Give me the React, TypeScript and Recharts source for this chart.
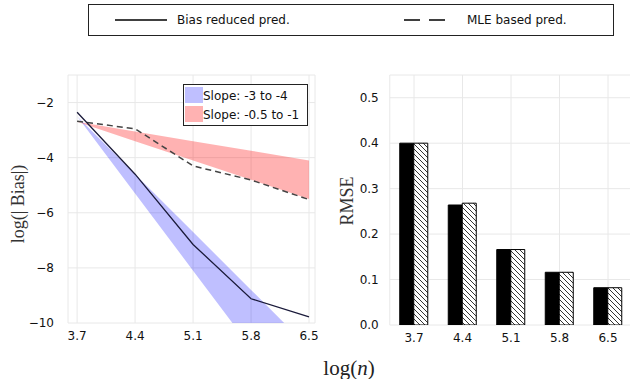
import React from 'react';
import {
  ComposedChart, Area, Line, XAxis, YAxis, CartesianGrid, BarChart, Bar,
} from 'recharts';

// ---- data ----
const logN = [3.7, 4.4, 5.1, 5.8, 6.5];
const biasReduced = [-2.35, -4.6, -7.15, -9.12, -9.78];
const mleBased = [-2.68, -2.95, -4.3, -4.81, -5.52];
const blueLow = [-2.5, -5.3, -8.1, -10.9, -13.7];
const blueHigh = [-2.5, -4.6, -6.7, -8.8, -10.9];
const redLow = [-2.7, -3.4, -4.1, -4.8, -5.5];
const redHigh = [-2.7, -3.05, -3.4, -3.75, -4.1];
const rmseBias = [0.4, 0.264, 0.166, 0.116, 0.082];
const rmseMle = [0.4, 0.268, 0.166, 0.116, 0.082];
const biasTicks = [-10, -8, -6, -4, -2];
const rmseTicks = [0, 0.1, 0.2, 0.3, 0.4, 0.5];
const tickLabels = ['3.7', '4.4', '5.1', '5.8', '6.5'];

const lineData = logN.map((x, i) => ({
  x,
  bias: biasReduced[i],
  mle: mleBased[i],
  blue: [blueLow[i], blueHigh[i]],
  red: [redLow[i], redHigh[i]],
}));
const barData = tickLabels.map((c, i) => ({ c, bias: rmseBias[i], mle: rmseMle[i] }));

const SANS = '"DejaVu Sans", sans-serif';
const SERIF = '"Liberation Serif", "Times New Roman", serif';
const tickStyle = { fontFamily: SANS, fontSize: 12, fill: '#111' };
const gridColor = '#e8e8e8';
const fmtMinus = (v: number) => (v < 0 ? '\u2212' + Math.abs(v) : String(v));

export default function App() {
  return (
    <div style={{ position: 'absolute', left: 0, top: 0, width: 630, height: 379, overflow: 'hidden', background: '#fff' }}>
      <svg width={0} height={0} style={{ position: 'absolute' }}>
        <defs>
          <pattern id="hatch" patternUnits="userSpaceOnUse" width={5} height={5}>
            <rect width={5} height={5} fill="#fff" />
            <path d="M0,0 L5,5 M-1,4 L1,6 M4,-1 L6,1" stroke="#000" strokeWidth={0.8} />
          </pattern>
        </defs>
      </svg>

      {/* Top legend */}
      <svg width={630} height={40} style={{ position: 'absolute', left: 0, top: 0 }}>
        <rect x={88.5} y={4.5} width={525} height={31} fill="#fff" stroke="#222" strokeWidth={1} />
        <line x1={115} x2={167} y1={20} y2={20} stroke="#000" strokeWidth={1.5} />
        <text x={177} y={24} style={{ fontFamily: SANS, fontSize: 12 }} fill="#111">Bias reduced pred.</text>
        <line x1={404} x2={445} y1={20} y2={20} stroke="#000" strokeWidth={1.5} strokeDasharray="16 9" />
        <text x={467} y={24} style={{ fontFamily: SANS, fontSize: 12 }} fill="#111">MLE based pred.</text>
      </svg>

      {/* Left chart */}
      <div style={{ position: 'absolute', left: 0, top: 0 }}>
        <ComposedChart width={330} height={379} data={lineData}
          margin={{ top: 75, right: 15, left: 28, bottom: 26 }}>
          <CartesianGrid stroke={gridColor} />
          <XAxis dataKey="x" type="number" domain={[3.59, 6.572]} ticks={logN}
            tickFormatter={(v: number) => v.toFixed(1)} axisLine={false} tickLine={false}
            tick={tickStyle} height={30} allowDataOverflow />
          <YAxis type="number" domain={[-10, -1]} ticks={biasTicks} allowDataOverflow
            axisLine={false} tickLine={false} tick={tickStyle} width={40} tickMargin={8}
            tickFormatter={fmtMinus}
            label={{
              content: () => (
                <text x={18} y={204} transform="rotate(-90 18 204)" textAnchor="middle"
                  dominantBaseline="central" style={{ fontFamily: SERIF, fontSize: 18 }} fill="#333">log(| Bias|)</text>
              ),
            }} />
          <Area dataKey="blue" type="linear" stroke="none" fill="#0000ff" fillOpacity={0.25} isAnimationActive={false} />
          <Area dataKey="red" type="linear" stroke="none" fill="#ff0000" fillOpacity={0.3} isAnimationActive={false} />
          <Line dataKey="mle" type="linear" stroke="#444" strokeWidth={1.5} strokeDasharray="6 4" dot={false} isAnimationActive={false} />
          <Line dataKey="bias" type="linear" stroke="#1a1a3a" strokeWidth={1.3} dot={false} isAnimationActive={false} />
        </ComposedChart>
      </div>

      {/* Left inner legend */}
      <svg width={130} height={45} style={{ position: 'absolute', left: 182, top: 83 }}>
        <rect x={1.5} y={1.5} width={124} height={41} fill="#fff" stroke="#222" strokeWidth={1} />
        <rect x={3} y={4} width={18} height={16} fill="#0000ff" fillOpacity={0.25} />
        <text x={21} y={17} style={{ fontFamily: SANS, fontSize: 12 }} fill="#111">Slope: -3 to -4</text>
        <rect x={3} y={23} width={18} height={16} fill="#ff0000" fillOpacity={0.3} />
        <text x={21} y={36} style={{ fontFamily: SANS, fontSize: 12 }} fill="#111">Slope: -0.5 to -1</text>
      </svg>

      {/* Right chart */}
      <div style={{ position: 'absolute', left: 330, top: 0 }}>
        <BarChart width={305} height={379} data={barData} barGap={0} barSize={14}
          margin={{ top: 75, right: 2.75, left: 10, bottom: 24 }}>
          <CartesianGrid stroke={gridColor} />
          <XAxis dataKey="c" axisLine={false} tickLine={false} tick={tickStyle} height={30} />
          <YAxis type="number" domain={[0, 0.55]} ticks={rmseTicks} allowDataOverflow
            axisLine={false} tickLine={false} tick={tickStyle} width={49.75} tickMargin={5}
            tickFormatter={(v: number) => v.toFixed(1)}
            label={{
              content: () => (
                <text x={17} y={201} transform="rotate(-90 17 201)" textAnchor="middle"
                  dominantBaseline="central" style={{ fontFamily: SERIF, fontSize: 18 }} fill="#333">RMSE</text>
              ),
            }} />
          <Bar dataKey="bias" fill="#000" stroke="#000" strokeWidth={1} isAnimationActive={false} />
          <Bar dataKey="mle" fill="url(#hatch)" stroke="#000" strokeWidth={1} isAnimationActive={false} />
        </BarChart>
      </div>

      {/* Shared x label */}
      <svg width={630} height={379} style={{ position: 'absolute', left: 0, top: 0, pointerEvents: 'none' }}>
        <text x={349} y={368} textAnchor="middle" dominantBaseline="central"
          style={{ fontFamily: SERIF, fontSize: 21 }} fill="#222">
          log(<tspan fontStyle="italic">n</tspan>)
        </text>
      </svg>
    </div>
  );
}
